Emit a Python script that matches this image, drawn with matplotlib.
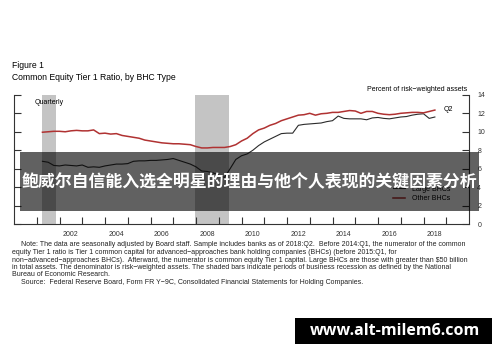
import numpy as np
import matplotlib.pyplot as plt
from matplotlib.patches import Rectangle

# === DATA (quarterly, 2001:Q1 - 2018:Q2) ===
start_year = 2001
other_bhcs = [
    9.95, 10.0, 10.05, 10.05,
    10.0, 10.1, 10.15, 10.1,
    10.1, 10.2, 9.8, 9.85,
    9.75, 9.8, 9.6, 9.5,
    9.4, 9.3, 9.1, 9.0,
    8.9, 8.8, 8.75, 8.7,
    8.7, 8.65, 8.6, 8.4,
    8.25, 8.25, 8.3, 8.3,
    8.3, 8.4, 8.6, 9.0,
    9.3, 9.8, 10.2, 10.4,
    10.7, 10.9, 11.2, 11.4,
    11.6, 11.8, 11.85, 12.0,
    11.8, 11.95, 12.0, 12.1,
    12.1, 12.2, 12.3, 12.25,
    12.0, 12.2, 12.2, 12.0,
    11.9, 11.85, 11.9, 12.0,
    12.05, 12.1, 12.1, 12.05,
    12.2, 12.35,
]
large_bhcs = [
    6.8, 6.7, 6.35, 6.3,
    6.4, 6.35, 6.3, 6.4,
    6.15, 6.2, 6.15, 6.3,
    6.4, 6.5, 6.5, 6.55,
    6.8, 6.85, 6.85, 6.9,
    6.9, 6.95, 7.0, 7.1,
    6.9, 6.7, 6.5, 6.2,
    5.75, 5.7, 5.55, 5.3,
    5.05, 6.0, 7.0, 7.4,
    7.6, 8.0, 8.5, 8.9,
    9.2, 9.5, 9.8, 9.85,
    9.85, 10.7, 10.8, 10.85,
    10.9, 10.95, 11.1, 11.2,
    11.7, 11.45, 11.4, 11.4,
    11.4, 11.3, 11.5, 11.55,
    11.45, 11.4, 11.5, 11.6,
    11.65, 11.8, 11.9, 11.95,
    11.45, 11.6,
]
recessions = [(2001.25, 2001.85), (2007.95, 2009.45)]
year_labels = [2002, 2004, 2006, 2008, 2010, 2012, 2014, 2016, 2018]
y_ticks = [0, 2, 4, 6, 8, 10, 12, 14]

plt.rcParams['font.family'] = ['Liberation Sans', 'DejaVu Sans']

n = len(other_bhcs)
dates = start_year + (np.arange(n) + 1) / 4.0

fig = plt.figure(figsize=(5, 3.62), dpi=100)
ax = fig.add_axes([0.028, 0.381, 0.910, 0.357])

for a, b in recessions:
    ax.axvspan(a, b, color='#c4c4c4', lw=0, zorder=0)

ax.plot(dates, large_bhcs, color='#2b2b2b', lw=0.8, label='Large BHCs', zorder=3)
ax.plot(dates, other_bhcs, color='#b03232', lw=1.1, label='Other BHCs', zorder=3)

ax.set_xlim(2000, 2020)
ax.set_ylim(0, 14)
ax.spines['top'].set_visible(False)
for s in ['left', 'right', 'bottom']:
    ax.spines[s].set_linewidth(0.8)
    ax.spines[s].set_color('#333333')

ax.set_yticks(y_ticks)
ax.yaxis.set_ticks_position('both')
ax.tick_params(axis='y', direction='in', length=5, width=0.8, labelleft=False,
               labelright=True, labelsize=5, colors='#333333', pad=6)
ax.set_xticks(range(2001, 2020))
ax.set_xticklabels([])
ax.set_xticks([y + 0.5 for y in year_labels], minor=True)
ax.set_xticklabels([str(y) for y in year_labels], minor=True)
ax.tick_params(axis='x', which='major', direction='in', length=5, width=0.8, colors='#333333')
ax.tick_params(axis='x', which='minor', length=0, labelsize=5, pad=5, colors='#333333')

leg = ax.legend(loc='lower right', bbox_to_anchor=(0.972, 0.12), frameon=False,
                fontsize=5, handlelength=1.8, handletextpad=0.9, labelspacing=0.4)

ax.text(0.045, 0.94, 'Quarterly', transform=ax.transAxes, fontsize=5, va='center')
ax.text(2018.9, 12.4, 'Q2', fontsize=5, va='center')

fig.text(0.024, 0.818, 'Figure 1', fontsize=6.2, va='center')
fig.text(0.024, 0.787, 'Common Equity Tier 1 Ratio, by BHC Type', fontsize=6.2, va='center')
fig.text(0.934, 0.752, 'Percent of risk\u2212weighted assets', fontsize=5, ha='right', va='center')

notes = [
    (0.042, "Note: The data are seasonally adjusted by Board staff. Sample includes banks as of 2018:Q2.  Before 2014:Q1, the numerator of the common"),
    (0.024, "equity Tier 1 ratio is Tier 1 common capital for advanced\u2212approaches bank holding companies (BHCs) (before 2015:Q1, for"),
    (0.024, "non\u2212advanced\u2212approaches BHCs).  Afterward, the numerator is common equity Tier 1 capital. Large BHCs are those with greater than $50 billion"),
    (0.024, "in total assets. The denominator is risk\u2212weighted assets. The shaded bars indicate periods of business recession as defined by the National"),
    (0.024, "Bureau of Economic Research."),
    (0.042, "Source:  Federal Reserve Board, Form FR Y\u22129C, Consolidated Financial Statements for Holding Companies."),
]
y_px = [245, 252.7, 260, 267.3, 275, 282.7]
for (x, line), yp in zip(notes, y_px):
    fig.text(x, 1 - yp / 362, line, fontsize=5.0, va='center', color='#222222')

# banner overlay
fig.patches.append(Rectangle((20 / 500, 1 - 211 / 362), 459 / 500, 59 / 362,
                             transform=fig.transFigure, color='black', alpha=0.62,
                             lw=0, zorder=10))
fig.text(0.498, 1 - 182 / 362, '鲍威尔自信能入选全明星的理由与他个人表现的关键因素分析',
         family=['Noto Sans CJK SC', 'DejaVu Sans'], fontweight='bold', fontsize=12.2,
         color='white', ha='center', va='center', zorder=11)

# watermark
fig.patches.append(Rectangle((295 / 500, 1 - 344 / 362), 197 / 500, 26 / 362,
                             transform=fig.transFigure, color='black', lw=0, zorder=10))
fig.text(395 / 500, 1 - 331 / 362, 'www.alt-milem6.com', family=['Open Sans', 'DejaVu Sans'],
         fontweight='bold', fontsize=11.5, color='white', ha='center', va='center', zorder=11)

fig.savefig('out.png', dpi=100)
